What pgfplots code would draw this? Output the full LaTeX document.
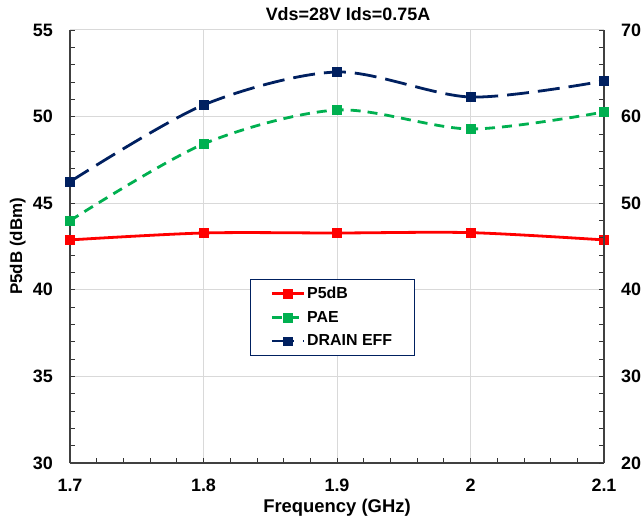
\documentclass[border=0pt]{standalone}
\usepackage{pgfplots}
\pgfplotsset{compat=1.18}
\usepackage{fontspec}
\setmainfont{Liberation Sans}
\definecolor{pred}{HTML}{FF0000}
\definecolor{pgreen}{HTML}{00B050}
\definecolor{pnavy}{HTML}{002060}
\definecolor{gridgray}{HTML}{D9D9D9}
\pgfplotsset{
  base/.style={
    scale only axis,
    width=534bp, height=433bp,
    xmin=1.7, xmax=2.1,
    tick label style={font=\fontsize{18}{20}\selectfont\bfseries, inner sep=0pt},
    /pgf/number format/assume math mode=true,
    major tick length=5bp, minor tick length=5bp,
    tick style={black!80, line width=0.8pt},
    axis line style={line width=1.1pt, draw=black!75},
  },
  legend image code/.code={
    \draw[mark repeat=2, mark phase=2] plot coordinates {(0bp,0bp) (16bp,0bp) (32bp,0bp)};
  },
}
\begin{document}
\begin{tikzpicture}
\begin{axis}[
  base,
  ymin=30, ymax=55,
  ytick={30,35,40,45,50,55},
  minor y tick num=4,
  xtick={1.7,1.8,1.9,2.0,2.1},
  xticklabels={1.7,1.8,1.9,2,2.1},
  minor x tick num=4,
  grid=major,
  major grid style={line width=1pt, draw=gridgray},
  axis y line*=left,
  axis x line*=bottom,
  xticklabel style={yshift=-16bp},
  yticklabel style={xshift=-17bp},
  xlabel={Frequency (GHz)},
  ylabel={P5dB (dBm)},
  xlabel style={font=\fontsize{18.5}{20}\selectfont\bfseries, inner sep=0pt, yshift=-7bp},
  ylabel style={font=\fontsize{17}{19}\selectfont\bfseries, inner sep=0pt, yshift=7bp},
  title={Vds=28V Ids=0.75A},
  title style={font=\fontsize{18}{20}\selectfont\bfseries, inner sep=0pt, yshift=3bp, xshift=11bp},
]
\addplot[pred, line width=2.8bp, smooth, mark=square*, mark size=4.3bp, mark options={solid, line width=0.5pt}] coordinates {
  (1.7,42.88) (1.8,43.28) (1.9,43.28) (2.0,43.30) (2.1,42.88)
};
\end{axis}
\begin{axis}[
  base,
  ymin=20, ymax=70,
  ytick={20,30,40,50,60,70},
  minor y tick num=4,
  axis y line*=right,
  axis x line=none,
  yticklabel style={xshift=17bp},
  legend style={at={(0.337,0.425)}, anchor=north west, draw=pnavy, line width=0.8pt,
    font=\fontsize{16}{18}\selectfont\bfseries, row sep=7bp,
    inner xsep=20bp, inner ysep=6bp},
  legend cell align=left,
]
\addlegendimage{pred, line width=2.8bp, mark=square*, mark size=4.3bp, mark options={solid, line width=0.5pt}}
\addlegendentry{P5dB}
\addplot[pgreen, line width=2.8bp, smooth, dash pattern=on 10bp off 7bp, mark=square*, mark size=4.3bp, mark options={solid, line width=0.5pt}] coordinates {
  (1.7,47.98) (1.8,56.84) (1.9,60.76) (2.0,58.57) (2.1,60.53)
};
\addlegendentry{PAE}
\addplot[pnavy, line width=2.8bp, smooth, dash pattern=on 22bp off 9bp, mark=square*, mark size=4.3bp, mark options={solid, line width=0.5pt, rounded corners=1.5bp}] coordinates {
  (1.7,52.48) (1.8,61.34) (1.9,65.15) (2.0,62.26) (2.1,64.11)
};
\addlegendentry{DRAIN EFF}
\end{axis}
\path (current axis.south west) ++(-70bp,-58bp) rectangle ++(644bp,521bp);
\end{tikzpicture}
\end{document}
